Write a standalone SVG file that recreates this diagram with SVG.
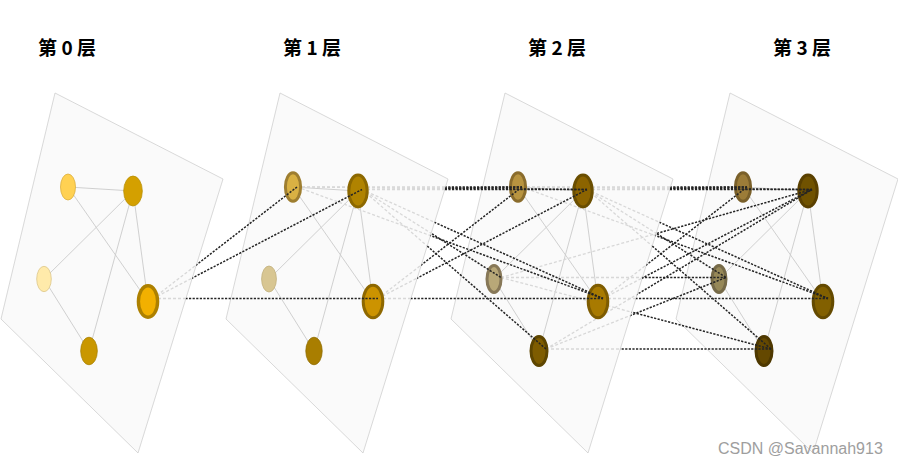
<svg xmlns="http://www.w3.org/2000/svg" width="898" height="464" viewBox="0 0 898 464">
<style>
.plane{fill:#fafafa;stroke:#cfcfcf;stroke-width:0.8}
.title{font-family:"Noto Sans CJK SC","Noto Sans",sans-serif;font-weight:bold;font-size:19px;fill:#000;text-anchor:middle}
.intra line{stroke:#cbcbcb;stroke-width:0.9}
.light line{stroke:#d8d8d8;stroke-width:1.3;stroke-dasharray:3 2}
.dark line{stroke:#242424;stroke-width:1.5;stroke-dasharray:2.2 1.4}
.thin{stroke-width:0.8}
.ring{stroke-width:3}
.wm{font-family:"Liberation Sans",Arial,sans-serif;font-size:16px;fill:#9e9e9e}
</style>
<defs>
<clipPath id="in0"><polygon points="55,93 223,179 138,453 1,319"/></clipPath>
<clipPath id="in1"><polygon points="280,93 448,179 363,453 226,319"/></clipPath>
<clipPath id="in2"><polygon points="505,93 673,179 588,453 451,319"/></clipPath>
<clipPath id="out0"><path clip-rule="evenodd" d="M0 0H898V464H0Z M55 93L223 179L138 453L1 319Z"/></clipPath>
<clipPath id="out1"><path clip-rule="evenodd" d="M0 0H898V464H0Z M280 93L448 179L363 453L226 319Z"/></clipPath>
<clipPath id="out2"><path clip-rule="evenodd" d="M0 0H898V464H0Z M505 93L673 179L588 453L451 319Z"/></clipPath>
</defs>
<rect width="898" height="464" fill="#ffffff"/>
<g id="planes">
<polygon class="plane" points="55,93 223,179 138,453 1,319"/>
<polygon class="plane" points="280,93 448,179 363,453 226,319"/>
<polygon class="plane" points="505,93 673,179 588,453 451,319"/>
<polygon class="plane" points="730,93 898,179 813,453 676,319"/>
</g>
<g id="titles">
<text class="title" x="67" y="55">第 0 层</text>
<text class="title" x="312" y="55">第 1 层</text>
<text class="title" x="557" y="55">第 2 层</text>
<text class="title" x="802" y="55">第 3 层</text>
</g>
<g id="edges">
<g class="intra">
<line x1="68" y1="187" x2="133" y2="191"/><line x1="68" y1="187" x2="148" y2="301.5"/><line x1="133" y1="191" x2="44" y2="279"/><line x1="133" y1="191" x2="89" y2="351"/><line x1="133" y1="191" x2="148" y2="301.5"/><line x1="44" y1="279" x2="89" y2="351"/>
<line x1="293" y1="187" x2="358" y2="191"/><line x1="293" y1="187" x2="373" y2="301.5"/><line x1="358" y1="191" x2="269" y2="279"/><line x1="358" y1="191" x2="314" y2="351"/><line x1="358" y1="191" x2="373" y2="301.5"/><line x1="269" y1="279" x2="314" y2="351"/>
<line x1="518" y1="187" x2="583" y2="191"/><line x1="518" y1="187" x2="598" y2="301.5"/><line x1="583" y1="191" x2="494" y2="279"/><line x1="583" y1="191" x2="539" y2="351"/><line x1="583" y1="191" x2="598" y2="301.5"/><line x1="494" y1="279" x2="539" y2="351"/>
<line x1="743" y1="187" x2="808" y2="191"/><line x1="743" y1="187" x2="823" y2="301.5"/><line x1="808" y1="191" x2="719" y2="279"/><line x1="808" y1="191" x2="764" y2="351"/><line x1="808" y1="191" x2="823" y2="301.5"/><line x1="719" y1="279" x2="764" y2="351"/>
</g>
<g class="light" clip-path="url(#in0)">
<line x1="153" y1="298.5" x2="297" y2="187"/><line x1="153" y1="298.5" x2="362" y2="189.5"/><line x1="153" y1="298.5" x2="378" y2="298.5"/>
</g>
<g class="light" clip-path="url(#in1)">
<line x1="297" y1="187" x2="522" y2="187"/><line x1="297" y1="187" x2="587" y2="189.5"/><line x1="297" y1="187" x2="603" y2="298.5"/>
<line x1="362" y1="189.5" x2="522" y2="187"/><line x1="362" y1="189.5" x2="587" y2="189.5"/><line x1="362" y1="189.5" x2="501" y2="277.5"/><line x1="362" y1="189.5" x2="603" y2="298.5"/><line x1="362" y1="189.5" x2="546" y2="349"/>
<line x1="378" y1="298.5" x2="522" y2="187"/><line x1="378" y1="298.5" x2="587" y2="189.5"/><line x1="378" y1="298.5" x2="603" y2="298.5"/>
</g>
<g class="light" clip-path="url(#in2)">
<line x1="522" y1="187" x2="747" y2="187"/><line x1="522" y1="187" x2="812" y2="189.5"/><line x1="522" y1="187" x2="828" y2="298.5"/>
<line x1="587" y1="189.5" x2="747" y2="187"/><line x1="587" y1="189.5" x2="812" y2="189.5"/><line x1="587" y1="189.5" x2="726" y2="277.5"/><line x1="587" y1="189.5" x2="828" y2="298.5"/><line x1="587" y1="189.5" x2="771" y2="349"/>
<line x1="501" y1="277.5" x2="812" y2="189.5"/><line x1="501" y1="277.5" x2="726" y2="277.5"/><line x1="501" y1="277.5" x2="771" y2="349"/>
<line x1="603" y1="298.5" x2="747" y2="187"/><line x1="603" y1="298.5" x2="812" y2="189.5"/><line x1="603" y1="298.5" x2="828" y2="298.5"/>
<line x1="546" y1="349" x2="812" y2="189.5"/><line x1="546" y1="349" x2="726" y2="277.5"/><line x1="546" y1="349" x2="771" y2="349"/>
</g>
</g>
<g id="nodes">
<g id="n0A"><ellipse cx="68" cy="187" rx="7.5" ry="13" fill="#ffd152" stroke="#dcae3c" class="thin"/></g>
<g id="n0B"><ellipse cx="133" cy="191" rx="9.3" ry="15" fill="#d4a000" stroke="#b88e00" class="thin"/></g>
<g id="n0C"><ellipse cx="44" cy="279" rx="7.3" ry="12.7" fill="#ffeaaa" stroke="#dcc78c" class="thin"/></g>
<g id="n0D"><ellipse cx="148" cy="301.5" rx="9.6" ry="15.8" fill="#f2b000" stroke="#ad8000" style="stroke-width:3.4"/></g>
<g id="n0E"><ellipse cx="89" cy="351" rx="8.3" ry="13.8" fill="#c99700" stroke="#a88000" class="thin"/></g>
<g id="n1A"><ellipse cx="293" cy="187" rx="7.6" ry="14.3" fill="#d9b143" stroke="#9e7e30" class="ring"/></g>
<g id="n1B"><ellipse cx="358" cy="191" rx="9.2" ry="16" fill="#b08300" stroke="#8c6800" class="ring"/></g>
<g id="n1C"><ellipse cx="269" cy="279" rx="7.4" ry="13" fill="#d8c692" stroke="#c2b07c" class="thin"/></g>
<g id="n1D"><ellipse cx="373" cy="301.5" rx="9.8" ry="16.2" fill="#cc9300" stroke="#8e6800" class="ring"/></g>
<g id="n1E"><ellipse cx="314" cy="351" rx="8.2" ry="13.8" fill="#a97e00" stroke="#8f6c00" class="thin"/></g>
<g id="n2A"><ellipse cx="518" cy="187" rx="7.6" ry="14.3" fill="#b89440" stroke="#8a6c2c" class="ring"/></g>
<g id="n2B"><ellipse cx="583" cy="191" rx="9.2" ry="16" fill="#8c6400" stroke="#6a4e00" class="ring"/></g>
<g id="n2C"><ellipse cx="494" cy="279" rx="7" ry="13.5" fill="#b8a878" stroke="#877858" class="ring"/></g>
<g id="n2D"><ellipse cx="598" cy="301.5" rx="9.8" ry="16.2" fill="#a87a00" stroke="#7e5c00" class="ring"/></g>
<g id="n2E"><ellipse cx="539" cy="351" rx="8" ry="14.5" fill="#7e5c00" stroke="#5e4600" class="ring"/></g>
<g id="n3A"><ellipse cx="743" cy="187" rx="7.6" ry="14.3" fill="#9c7c38" stroke="#7a602a" class="ring"/></g>
<g id="n3B"><ellipse cx="808" cy="191" rx="9.2" ry="16" fill="#705200" stroke="#5a4000" class="ring"/></g>
<g id="n3C"><ellipse cx="719" cy="279" rx="7" ry="13.5" fill="#968858" stroke="#766a48" class="ring"/></g>
<g id="n3D"><ellipse cx="823" cy="301.5" rx="9.8" ry="16.2" fill="#826000" stroke="#644a00" class="ring"/></g>
<g id="n3E"><ellipse cx="764" cy="351" rx="8" ry="14.5" fill="#644800" stroke="#4e3800" class="ring"/></g>
</g>
<g id="connectors">
<g class="dark" clip-path="url(#out0)">
<line x1="153" y1="298.5" x2="297" y2="187"/><line x1="153" y1="298.5" x2="362" y2="189.5"/><line x1="153" y1="298.5" x2="378" y2="298.5"/>
</g>
<g class="dark" clip-path="url(#out1)">
<line x1="297" y1="187" x2="522" y2="187"/><line x1="297" y1="187" x2="587" y2="189.5"/><line x1="297" y1="187" x2="603" y2="298.5"/>
<line x1="362" y1="189.5" x2="522" y2="187"/><line x1="362" y1="189.5" x2="587" y2="189.5"/><line x1="362" y1="189.5" x2="501" y2="277.5"/><line x1="362" y1="189.5" x2="603" y2="298.5"/><line x1="362" y1="189.5" x2="546" y2="349"/>
<line x1="378" y1="298.5" x2="522" y2="187"/><line x1="378" y1="298.5" x2="587" y2="189.5"/><line x1="378" y1="298.5" x2="603" y2="298.5"/>
</g>
<g class="dark" clip-path="url(#out2)">
<line x1="522" y1="187" x2="747" y2="187"/><line x1="522" y1="187" x2="812" y2="189.5"/><line x1="522" y1="187" x2="828" y2="298.5"/>
<line x1="587" y1="189.5" x2="747" y2="187"/><line x1="587" y1="189.5" x2="812" y2="189.5"/><line x1="587" y1="189.5" x2="726" y2="277.5"/><line x1="587" y1="189.5" x2="828" y2="298.5"/><line x1="587" y1="189.5" x2="771" y2="349"/>
<line x1="501" y1="277.5" x2="812" y2="189.5"/><line x1="501" y1="277.5" x2="726" y2="277.5"/><line x1="501" y1="277.5" x2="771" y2="349"/>
<line x1="603" y1="298.5" x2="747" y2="187"/><line x1="603" y1="298.5" x2="812" y2="189.5"/><line x1="603" y1="298.5" x2="828" y2="298.5"/>
<line x1="546" y1="349" x2="812" y2="189.5"/><line x1="546" y1="349" x2="726" y2="277.5"/><line x1="546" y1="349" x2="771" y2="349"/>
</g>
</g>
<text class="wm" x="718" y="454">CSDN @Savannah913</text>
</svg>
